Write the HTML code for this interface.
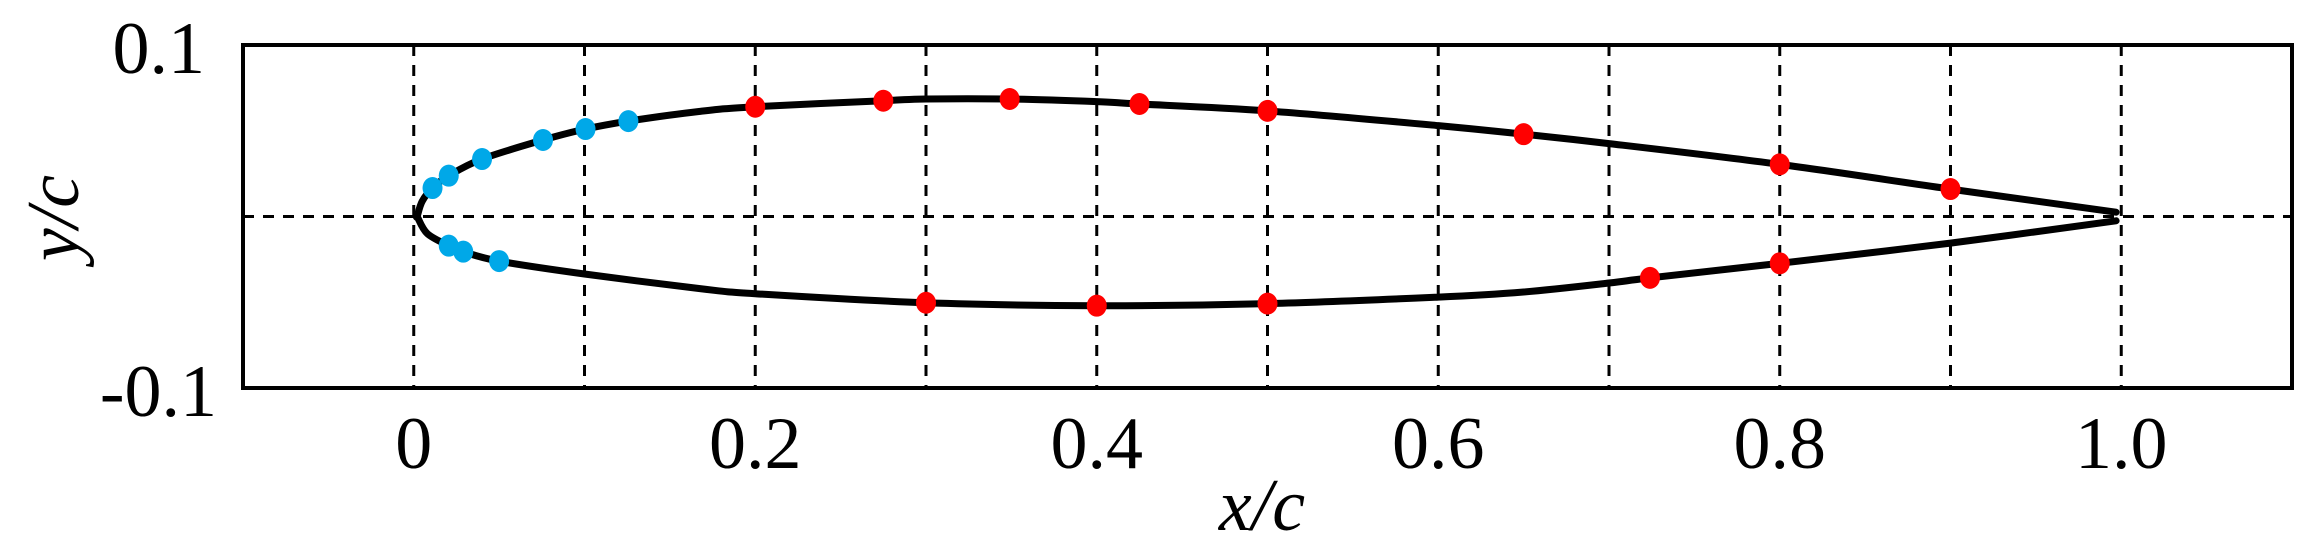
<!DOCTYPE html>
<html><head><meta charset="utf-8"><style>
html,body{margin:0;padding:0;background:#fff;}
svg{display:block;}
text{font-family:"Liberation Serif","Times New Roman",Times,serif;}
</style></head><body>
<svg id="chart" width="2309" height="554" viewBox="0 0 2309 554" xmlns="http://www.w3.org/2000/svg">
<g id="grid"></g>
<g id="xticks"></g>
<g id="yticks"></g>
<path id="contour" fill="none" stroke="#000" stroke-width="7" stroke-linejoin="round" stroke-linecap="round"></path>
<g id="markers"></g>
<rect x="243" y="45" width="2049" height="343" fill="none" stroke="#000" stroke-width="4"></rect>
<text x="1262" y="530" font-size="74" font-style="italic" text-anchor="middle">x/c</text>
<text transform="translate(78,218) rotate(-90)" font-size="74" font-style="italic" text-anchor="middle">y/c</text>
</svg>
<script>
const xTicks=[0,0.2,0.4,0.6,0.8,1.0];
const xTickLabels=["0","0.2","0.4","0.6","0.8","1.0"];
const xGrid=[0,0.1,0.2,0.3,0.4,0.5,0.6,0.7,0.8,0.9,1.0];
const yTicks=[0.1,-0.1];
const yTickLabels=["0.1","-0.1"];
const upperX=[0.997,0.9,0.8,0.7,0.65,0.6,0.5,0.425,0.4,0.349,0.3,0.275,0.2,0.167,0.1257,0.1006,0.0757,0.04,0.0205,0.011,0.005,0.002];
const upperY=[0.0025,0.016,0.0304,0.0425,0.048,0.053,0.0616,0.0656,0.067,0.0685,0.0685,0.0675,0.064,0.0612,0.0556,0.051,0.0446,0.0335,0.0238,0.0166,0.009,0.0];
const lowerX=[0.002,0.008,0.0205,0.029,0.05,0.1,0.167,0.2,0.3,0.4,0.5,0.6,0.65,0.7,0.724,0.8,0.9,0.997];
const lowerY=[0.0,-0.01,-0.017,-0.0205,-0.026,-0.0335,-0.042,-0.045,-0.0503,-0.052,-0.0508,-0.047,-0.044,-0.0388,-0.0358,-0.0273,-0.0155,-0.0025];
const redX=[0.2,0.275,0.349,0.425,0.5,0.65,0.8,0.9,0.3,0.4,0.5,0.724,0.8];
const redY=[0.064,0.0675,0.0685,0.0656,0.0616,0.048,0.0304,0.016,-0.0503,-0.052,-0.0508,-0.0358,-0.0273];
const blueX=[0.011,0.0205,0.04,0.0757,0.1006,0.1257,0.0205,0.029,0.05];
const blueY=[0.0166,0.0238,0.0335,0.0446,0.051,0.0556,-0.017,-0.0205,-0.026];

const NS="http://www.w3.org/2000/svg";
const X0=243,X1=2292,Y0=388,Y1=45;
function sx(v){return X0+(v+0.1)/1.2*(X1-X0);}
function sy(v){return Y0-(v+0.1)/0.2*(Y0-Y1);}
function mk(tag,attrs,parent){const e=document.createElementNS(NS,tag);for(const k in attrs)e.setAttribute(k,attrs[k]);parent.appendChild(e);return e;}

const grid=document.getElementById('grid');
xGrid.forEach(v=>{
  const l=mk('line',{x1:sx(v),x2:sx(v),y1:Y1,y2:Y0,stroke:'#000','stroke-width':3,'stroke-dasharray':'11 9'},grid);
  
  
});
const h=mk('line',{x1:X0,x2:X1,y1:sy(0),y2:sy(0),stroke:'#000','stroke-width':3,'stroke-dasharray':'11 9'},grid);



const xt=document.getElementById('xticks');
xTicks.forEach((v,i)=>{
  const t=mk('text',{x:sx(v),y:468,'font-size':74,'text-anchor':'middle'},xt);
  t.textContent=xTickLabels[i];
  
  
});
const yt=document.getElementById('yticks');
yTicks.forEach((v,i)=>{
  const t=mk('text',{x:v>0?205:217,y:sy(v)+28,'font-size':74,'text-anchor':'end'},yt);
  t.textContent=yTickLabels[i];
  
  
});

const pts=[];
upperX.forEach((v,i)=>pts.push([sx(v),sy(upperY[i])]));
lowerX.forEach((v,i)=>pts.push([sx(v),sy(lowerY[i])]));
let d='M'+pts[0][0].toFixed(1)+','+pts[0][1].toFixed(1);
for(let i=0;i<pts.length-1;i++){
  const p0=pts[Math.max(0,i-1)],p1=pts[i],p2=pts[i+1],p3=pts[Math.min(pts.length-1,i+2)];
  const c1=[p1[0]+(p2[0]-p0[0])/6,p1[1]+(p2[1]-p0[1])/6];
  const c2=[p2[0]-(p3[0]-p1[0])/6,p2[1]-(p3[1]-p1[1])/6];
  d+='C'+c1[0].toFixed(1)+','+c1[1].toFixed(1)+' '+c2[0].toFixed(1)+','+c2[1].toFixed(1)+' '+p2[0].toFixed(1)+','+p2[1].toFixed(1);
}
document.getElementById('contour').setAttribute('d',d);

const mg=document.getElementById('markers');
redX.forEach((v,i)=>{
  const c=mk('ellipse',{cx:sx(v),cy:sy(redY[i]),rx:10,ry:11,fill:'#ff0000'},mg);
  
  
});
blueX.forEach((v,i)=>{
  const c=mk('ellipse',{cx:sx(v),cy:sy(blueY[i]),rx:10,ry:11,fill:'#00a8e8'},mg);
  
  
});
</script>
</body></html>
